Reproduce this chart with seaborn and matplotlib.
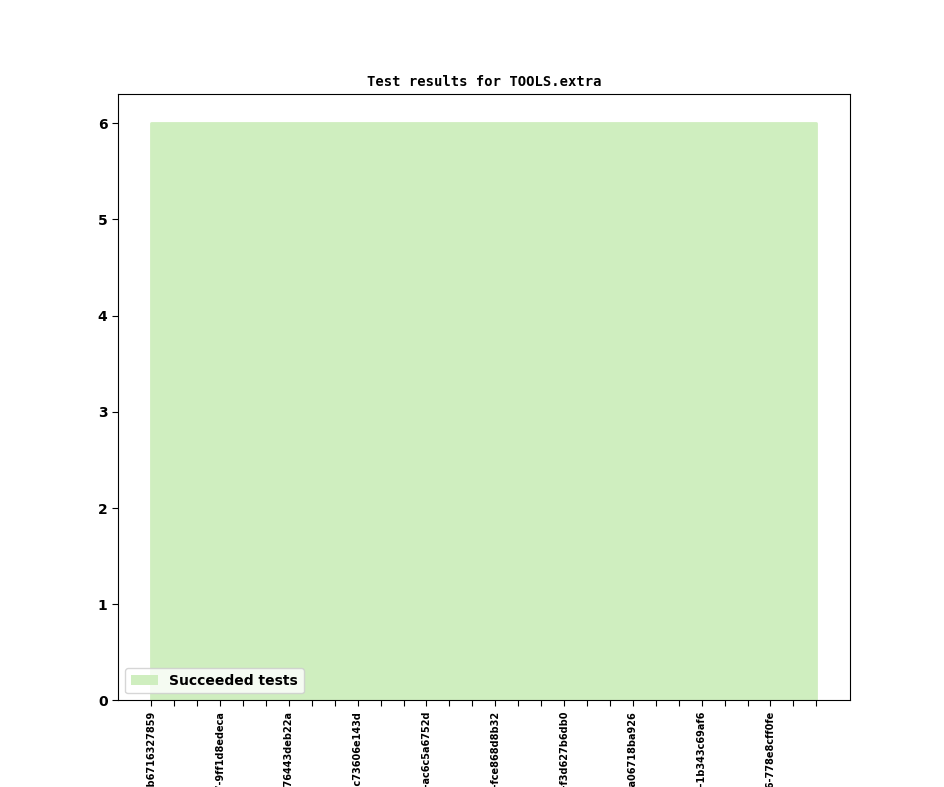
import matplotlib
matplotlib.use("Agg")
import matplotlib.pyplot as plt
import seaborn as sns
import numpy as np
import pandas as pd

# Data
builds = list(range(30))
succeeded = [6] * 30
label_names = [
    "0.9.1-3-gb6716327859", "0.9.1-7-9ff1d8edeca", "0.9.2-1-76443deb22a",
    "0.9.2-5-c73606e143d", "0.9.3-2-ac6c5a6752d", "0.9.3-4-fce868d8b32",
    "0.9.4-1-f3d627b6db0", "0.9.4-6-a06718ba926", "0.9.5-2-1b343c69af6",
    "0.9.5-6-778e8cff0fe",
]
title = "Test results for TOOLS.extra"
legend_label = "Succeeded tests"
fill_color = "#cfeebf"

sns.set_style("white")
plt.rcParams['font.family'] = ['DejaVu Sans']
plt.rcParams['text.color'] = 'black'
plt.rcParams['xtick.color'] = 'black'
plt.rcParams['ytick.color'] = 'black'
plt.rcParams['axes.labelcolor'] = 'black'

fig, ax = plt.subplots(figsize=(9.44, 7.87), dpi=100)
df = pd.DataFrame({"build": builds, "ok": succeeded})
sns.lineplot(data=df, x="build", y="ok", ax=ax, color=fill_color, linewidth=0, legend=False)
polys = ax.stackplot(df["build"], df["ok"], colors=[fill_color], labels=[legend_label])
for p in polys:
    p.set_edgecolor(fill_color)
    p.set_linewidth(2)

ax.set_xticks(builds)
tick_labels = [""] * len(builds)
for i, name in enumerate(label_names):
    tick_labels[i * 3] = name
ax.set_xticklabels(tick_labels, rotation=90, fontsize=7, fontweight="bold", color="black")
ax.tick_params(axis="x", direction="out", length=4, bottom=True, color="black", labelcolor="black")
ax.tick_params(axis="y", direction="out", length=4, left=True, color="black", labelcolor="black")
ax.set_yticks(range(0, 7))
ax.set_yticklabels([str(v) for v in range(0, 7)], fontweight="bold", fontsize=10, color="black")
ax.set_xlabel("")
ax.set_ylabel("")
ax.margins(x=0.05)
ax.set_ylim(0, 6.3)
for s in ax.spines.values():
    s.set_color("black")
    s.set_linewidth(0.8)
ax.set_title(title, family="DejaVu Sans Mono", fontweight="bold", fontsize=10, color="black")
leg = ax.legend(loc="lower left", prop={"weight": "bold", "size": 10})
for t in leg.get_texts():
    t.set_color("black")
for h in leg.legend_handles:
    h.set_linewidth(0)
fig.subplots_adjust(left=0.125, right=0.9, top=0.88, bottom=0.11)
fig.savefig("out.png", dpi=100)
